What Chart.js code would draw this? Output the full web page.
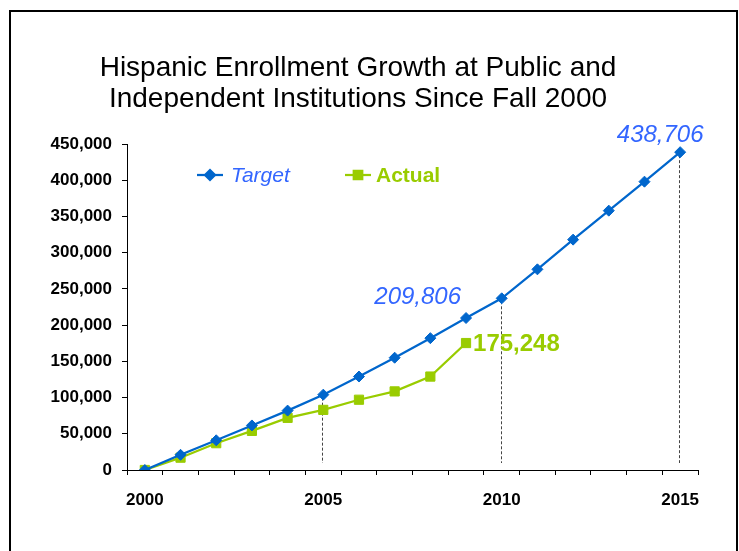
<!DOCTYPE html>
<html>
<head>
<meta charset="utf-8">
<script src="https://cdn.jsdelivr.net/npm/chart.js@4.4.0/dist/chart.umd.min.js"></script>
<style>
  html, body { margin: 0; padding: 0; background: #fff; }
  #wrap { position: relative; width: 739px; height: 551px; overflow: hidden; }
  #frame { position: absolute; left: 9px; top: 10px; width: 729px; height: 600px; border: 2px solid #000; box-sizing: border-box; }
  canvas { position: absolute; left: 0; top: 0; }
</style>
</head>
<body>
<div id="wrap"><div id="frame"></div><canvas id="myChart" width="739" height="551"></canvas></div>
<script>
const titleLines = ['Hispanic Enrollment Growth at Public and', 'Independent Institutions Since Fall 2000'];
const years = ['2000', '2001', '2002', '2003', '2004', '2005', '2006', '2007',
               '2008', '2009', '2010', '2011', '2012', '2013', '2014', '2015'];
const shownYears = ['2000', '2005', '2010', '2015'];
const target = [0, 21000, 41000, 61500, 82000, 104000, 129000, 155000,
                182000, 209806, 237000, 277000, 318000, 358000, 398000, 438706];
const actual = [0, 17000, 37000, 54000, 72000, 83000, 97000, 108500,
                129000, 175248, null, null, null, null, null, null];
const dropLineYears = ['2005', '2010', '2015'];
const targetCallouts = ['2009', '2015'];
const actualCallouts = ['2009'];

const FONT = 'Liberation Sans, Arial, sans-serif';
const BLUE = '#0066CC';
const BLUE_TEXT = '#3366FF';
const GREEN = '#99CC00';

const fmt = (v) => v.toLocaleString('en-US');

// title, legend, drop lines and value callouts
const overlay = {
  id: 'overlay',
  beforeDatasetsDraw(chart) {
    const ctx = chart.ctx, xs = chart.scales.x, ys = chart.scales.y;
    ctx.save();
    ctx.strokeStyle = '#444';
    ctx.lineWidth = 1;
    ctx.setLineDash([3, 2]);
    dropLineYears.forEach((yr) => {
      const i = years.indexOf(yr);
      const px = Math.round(xs.getPixelForValue(i)) - 0.5;
      ctx.beginPath();
      ctx.moveTo(px, ys.getPixelForValue(target[i]) + 3);
      ctx.lineTo(px, ys.bottom - 7);
      ctx.stroke();
    });
    ctx.restore();
  },
  afterDraw(chart) {
    const ctx = chart.ctx, xs = chart.scales.x, ys = chart.scales.y;
    ctx.save();

    // title
    ctx.fillStyle = '#000';
    ctx.font = '28px ' + FONT;
    ctx.textAlign = 'center';
    ctx.textBaseline = 'alphabetic';
    ctx.fillText(titleLines[0], 358, 76);
    ctx.fillText(titleLines[1], 358, 107);

    // legend
    const drawKey = (x0, yc, color, style, r) => {
      ctx.strokeStyle = color;
      ctx.lineWidth = 2.25;
      ctx.beginPath();
      ctx.moveTo(x0, yc);
      ctx.lineTo(x0 + 26, yc);
      ctx.stroke();
      Chart.helpers.drawPoint(ctx, {pointStyle: style, radius: r, borderWidth: 1}, x0 + 13, yc);
    };
    ctx.fillStyle = BLUE;
    drawKey(197, 175, BLUE, 'rectRot', 5);
    ctx.fillStyle = GREEN;
    drawKey(345, 175, GREEN, 'rect', 6);
    ctx.textAlign = 'left';
    ctx.textBaseline = 'middle';
    ctx.font = 'italic 21px ' + FONT;
    ctx.fillStyle = BLUE_TEXT;
    ctx.fillText(chart.data.datasets[0].label, 231, 176);
    ctx.font = 'bold 21px ' + FONT;
    ctx.fillStyle = GREEN;
    ctx.fillText(chart.data.datasets[1].label, 376, 176);

    // callouts
    ctx.font = 'italic 24px ' + FONT;
    ctx.fillStyle = BLUE_TEXT;
    ctx.textBaseline = 'alphabetic';
    targetCallouts.forEach((yr, k) => {
      const i = years.indexOf(yr);
      const px = xs.getPixelForValue(i), py = ys.getPixelForValue(target[i]);
      if (k === 0) {
        ctx.textAlign = 'right';
        ctx.fillText(fmt(target[i]), px - 5, py - 14);
      } else {
        ctx.textAlign = 'center';
        ctx.fillText(fmt(target[i]), px - 20, py - 10);
      }
    });
    ctx.font = 'bold 24px ' + FONT;
    ctx.fillStyle = GREEN;
    ctx.textAlign = 'left';
    ctx.textBaseline = 'middle';
    actualCallouts.forEach((yr) => {
      const i = years.indexOf(yr);
      ctx.fillText(fmt(actual[i]), xs.getPixelForValue(i) + 7, ys.getPixelForValue(actual[i]) + 1);
    });
    ctx.restore();
  }
};

const ctx = document.getElementById('myChart').getContext('2d');
const myChart = new Chart(ctx, {
  type: 'line',
  data: {
    labels: years,
    datasets: [
      {
        label: 'Target',
        data: target,
        borderColor: BLUE,
        backgroundColor: BLUE,
        borderWidth: 2.25,
        pointStyle: 'rectRot',
        pointRadius: 5.5,
        pointBorderWidth: 1,
        tension: 0
      },
      {
        label: 'Actual',
        data: actual,
        borderColor: GREEN,
        backgroundColor: GREEN,
        borderWidth: 2.25,
        pointStyle: 'rect',
        pointRadius: 6.5,
        pointBorderWidth: 1,
        tension: 0
      }
    ]
  },
  options: {
    responsive: false,
    animation: false,
    layout: { padding: { top: 144, right: 41, left: 0, bottom: 0 } },
    plugins: {
      legend: { display: false },
      title: { display: false },
      tooltip: { enabled: false }
    },
    scales: {
      x: {
        offset: true,
        afterFit: (scale) => { scale.height = 81; },
        grid: { offset: true, drawOnChartArea: false, drawTicks: true, tickLength: 5, color: '#000' },
        border: { display: true, color: '#000', width: 1 },
        ticks: {
          autoSkip: false,
          maxRotation: 0,
          padding: 15,
          color: '#000',
          font: { family: FONT, size: 17, weight: 'bold' },
          callback: (val, i) => shownYears.includes(years[i]) ? years[i] : ''
        }
      },
      y: {
        min: 0,
        max: 450000,
        afterFit: (scale) => { scale.width = 127; },
        grid: { drawOnChartArea: false, drawTicks: true, tickLength: 5, color: '#000' },
        border: { display: true, color: '#000', width: 1 },
        ticks: {
          stepSize: 50000,
          padding: 10,
          color: '#000',
          font: { family: FONT, size: 17, weight: 'bold' },
          callback: (v) => fmt(v)
        }
      }
    }
  },
  plugins: [overlay]
});
</script>
</body>
</html>
